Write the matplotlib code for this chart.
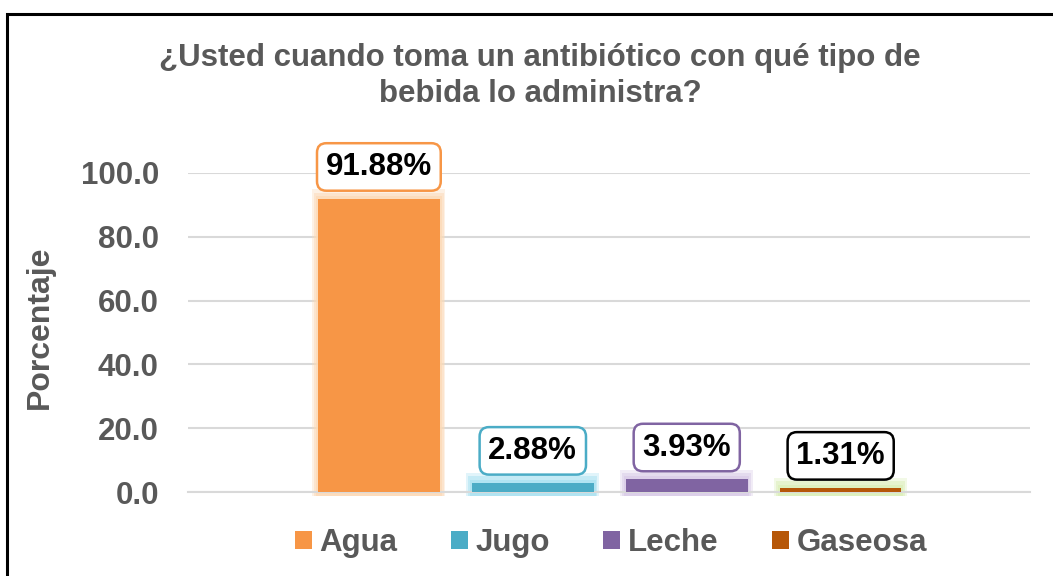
import numpy as np
import matplotlib
matplotlib.use("Agg")
import matplotlib.pyplot as plt
from matplotlib.patches import Rectangle

plt.rcParams['font.family'] = ['Liberation Sans', 'DejaVu Sans']
plt.rcParams['font.weight'] = 'bold'

title = "¿Usted cuando toma un antibiótico con qué tipo de\nbebida lo administra?"
series = ["Agua", "Jugo", "Leche", "Gaseosa"]
values = [91.88, 2.88, 3.93, 1.31]
labels = ["91.88%", "2.88%", "3.93%", "1.31%"]
yticks = [0, 20, 40, 60, 80, 100]

colors = ["#f79646", "#4bacc6", "#8064a2", "#b65708"]
glows = ["#fcd9b6", "#a9e2f2", "#d9cbe8", "#dcefb8"]
edges = ["#f79646", "#4bacc6", "#8064a2", "#000000"]
grey = "#595959"

W, H = 1053, 576
fig = plt.figure(figsize=(W / 100, H / 100), dpi=100)
ax = fig.add_axes([188 / W, 1 - 492 / H, (1030 - 188) / W, (492 - 173) / H])

x = np.arange(len(series))
bw = 0.79
# soft glow around each bar
for i in range(len(series)):
    for k, a in [(0.075, 0.35), (0.05, 0.5), (0.025, 0.7)]:
        ax.bar(x[i], values[i] + k * 40 + 1.2, width=bw + k, bottom=-1.2,
               color=glows[i], alpha=a, zorder=2, linewidth=0, clip_on=False)
for i in range(len(series)):
    ax.bar(x[i], values[i], width=bw, color=colors[i], zorder=3,
           label=series[i], linewidth=0)

for i in range(len(series)):
    ax.annotate(labels[i], (x[i], values[i]), xytext=(0, 23),
                textcoords="offset points", ha="center", va="center",
                fontsize=22.5, fontweight="bold", color="black", zorder=5,
                bbox=dict(boxstyle="round,pad=0.28,rounding_size=0.3",
                          fc="white", ec=edges[i], lw=1.8))

ax.set_xlim(-1.24, 4.23)
ax.set_ylim(0, 100)
ax.set_yticks(yticks)
ax.set_yticklabels([f"{t:.1f}" for t in yticks], fontsize=22.5,
                   fontweight="bold", color=grey)
ax.set_xticks([])
ax.tick_params(axis="y", length=0, pad=21)
ax.grid(axis="y", color="#d9d9d9", linewidth=1.5, zorder=0)
ax.set_axisbelow(True)
for s in ["top", "right", "left"]:
    ax.spines[s].set_visible(False)
ax.spines["bottom"].set_color("#d9d9d9")
ax.spines["bottom"].set_linewidth(1.5)

fig.text(40 / W, 1 - 327 / H, "Porcentaje", rotation=90, ha="center",
         va="center", fontsize=23, fontweight="bold", color=grey)
fig.text(540 / W, 1 - 76 / H, title, ha="center", va="center",
         fontsize=22.5, fontweight="bold", color=grey, linespacing=1.25)

leg = fig.legend(loc="center", bbox_to_anchor=(611 / W, 1 - 543 / H),
                 ncol=4, frameon=False, fontsize=22.5, handlelength=0.55,
                 handleheight=0.55, handletextpad=0.25, columnspacing=1.7)
for t in leg.get_texts():
    t.set_color(grey)
    t.set_fontweight("bold")

fig.patches.append(Rectangle((7 / W, -0.05), 1.2, 1 - 14 / H + 0.05,
                             transform=fig.transFigure, fill=False,
                             ec="black", lw=2.2, clip_on=False))

fig.savefig("out.png", dpi=100)
